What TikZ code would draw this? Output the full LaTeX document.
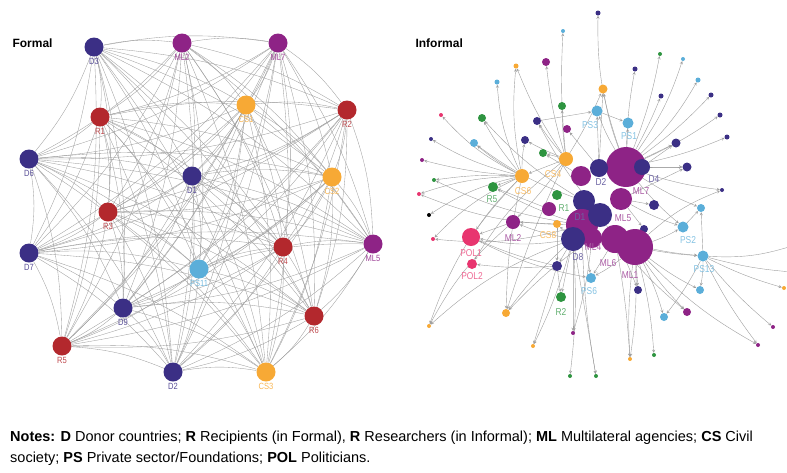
\documentclass[tikz,border=0pt]{standalone}
\usepackage{fontspec}
\setmainfont{Liberation Sans}
\newfontfamily\narrowfont[FakeStretch=0.84]{Liberation Sans}
\usetikzlibrary{positioning}
\usetikzlibrary{backgrounds}

\definecolor{dnavy}{HTML}{3B2F85}
\definecolor{mlpurple}{HTML}{8E2386}
\definecolor{rred}{HTML}{B3282D}
\definecolor{csorange}{HTML}{F7A935}
\definecolor{psblue}{HTML}{5BAED9}
\definecolor{rgreen}{HTML}{2E9440}
\definecolor{polpink}{HTML}{E8356F}
\definecolor{linegray}{HTML}{9E9E9E}

\tikzset{
  dot/.style={circle,fill=#1,inner sep=0pt},
  fedge/.style={draw=linegray,line width=0.35pt},
  iedge/.style={draw=linegray,line width=0.4pt,-stealth},
  flbl/.style={text=#1!85,font=\narrowfont\fontsize{9}{9}\selectfont,inner sep=1pt},
  ilbl/.style={text=#1!75,font=\narrowfont\fontsize{10}{10}\selectfont,inner sep=0pt},
  title/.style={font=\bfseries\fontsize{12}{12}\selectfont,anchor=west}
}

\def\formalnodes{fD3,fML2,fML7,fR1,fCS1,fR2,fD6,fD1,fCS2,fR3,fD7,fPS11,fR4,fML5,fD9,fR6,fR5,fD2,fCS3}

\begin{document}
\begin{tikzpicture}[x=1pt,y=-1pt]
\useasboundingbox (0,0) rectangle (787,472);

\node[title] (formal) at (9,43) {Formal};
\node[title] (informal) at (412,43) {Informal};

\foreach \n/\x/\y/\c/\l in {
  fD3/94/47/dnavy/D3, fML2/182/43/mlpurple/ML2, fML7/278/43/mlpurple/ML7,
  fR1/100/117/rred/R1, fCS1/246/105/csorange/CS1, fR2/347/110/rred/R2,
  fD6/29/159/dnavy/D6, fD1/192/176/dnavy/D1, fCS2/332/177/csorange/CS2,
  fR3/108/212/rred/R3, fD7/29/253/dnavy/D7, fPS11/199/269/psblue/PS11,
  fR4/283/247/rred/R4, fML5/373/244/mlpurple/ML5, fD9/123/308/dnavy/D9,
  fR6/314/316/rred/R6, fR5/62/346/rred/R5, fD2/173/372/dnavy/D2,
  fCS3/266/372/csorange/CS3}
  \node[dot=\c,minimum size=19,label={[flbl=\c]below:\l}] (\n) at (\x,\y) {};

\begin{scope}[on background layer]
\foreach \a [count=\i] in \formalnodes {
  \foreach \b [count=\j] in \formalnodes {
    \ifnum\j>\i \draw[fedge] (\a) to[bend left=9] (\b); \fi
  }
}
\end{scope}

\foreach \n/\x/\y/\d/\c in {
  p1/598/13/5/dnavy, p2/563/31/4/psblue, p3/516/66/5/csorange,
  p4/546/62/8/mlpurple, p5/497/82/5/psblue, p6/635/69/5/dnavy,
  p7/660/54/4/rgreen, p8/683/59/4/psblue, p9/698/80/5/psblue,
  p10/661/96/5/dnavy, p11/711/95/5/dnavy, p12/720/115/5/dnavy,
  p13/727/137/5/dnavy, p14/676/143/9/dnavy, p15/687/167/9/dnavy,
  p16/441/115/4/polpink, p17/431/139/4/dnavy, p18/422/160/4/mlpurple,
  p19/434/180/4/rgreen, p20/419/194/4/polpink, p21/603/89/9/csorange,
  p22/562/106/8/rgreen, p23/482/118/8/rgreen, p24/537/121/8/dnavy,
  p25/567/129/8/mlpurple, p26/474/143/8/psblue, p27/525/140/8/dnavy,
  p28/543/153/8/rgreen, p29/429/215/4/black, p30/433/239/4/polpink,
  p31/557/266/10/dnavy, p32/506/313/8/csorange, p33/429/326/4/csorange,
  p34/533/346/4/csorange, p35/573/333/4/mlpurple, p36/570/376/4/rgreen,
  p37/596/376/4/rgreen, p38/630/359/4/csorange, p39/654/355/4/rgreen,
  p40/638/290/8/dnavy, p41/664/317/8/psblue, p42/687/312/8/mlpurple,
  p43/700/290/8/psblue, p44/701/208/8/psblue, p45/722/190/4/dnavy,
  p46/784/288/4/csorange, p47/773/327/4/mlpurple, p48/758/345/4/mlpurple,
  p49/654/205/10/dnavy, p50/644/229/8/dnavy,
  iCS4/566/159/14/csorange, iCS6/522/176/14/csorange, iR5/493/187/10/rgreen,
  iR1/557/195/10/rgreen, iPb/549/209/14/mlpurple, iML2/513/222/14/mlpurple,
  iCS8/557/224/8/csorange, iPOL1/471/237/18/polpink, iPOL2/472/264/10/polpink,
  iR2/561/297/10/rgreen, iPS6/591/278/10/psblue, iPS3/597/111/11/psblue,
  iPS1/628/123/11/psblue, iMLa/626/167/40/mlpurple, iD4/642/167/16/dnavy,
  iMLb/581/176/20/mlpurple, iD2/599/168/18/dnavy, iML7/621/199/22/mlpurple,
  iDa/584/201/22/dnavy, iD1/582/225/32/mlpurple, iML4/592/238/20/mlpurple,
  iML5/600/215/24/dnavy, iD8/573/239/24/dnavy, iML6/615/239/28/mlpurple,
  iML1/635/247/36/mlpurple, iPS2/683/227/11/psblue, iPS13/703/256/11/psblue}
  \node[dot=\c,minimum size=\d] (\n) at (\x,\y) {};

\coordinate (out1) at (792,246);
\coordinate (out2) at (792,272);

\begin{scope}[on background layer]
\foreach \a/\b/\s in {
  iCS6/p16/10, iCS6/p17/8, iCS6/p18/5, iCS6/p19/-5, iCS6/p20/-8,
  iCS6/p29/-10, iCS6/p30/-10, iCS6/p26/5, iCS6/p23/5, iCS6/p5/10,
  iCS6/iPOL1/-5, iCS6/iR5/0, iCS6/p27/5, iCS6/p33/-12, iCS6/p32/-5, iCS6/p3/8,
  iCS4/p4/5, iCS4/p2/4, iCS4/p3/6, iCS4/p24/3, iCS4/p22/3, iCS4/p28/0,
  iCS4/p21/-4, iCS4/iCS6/0, iCS4/iML2/4, iCS4/p27/3, iCS4/iPOL2/-10, iCS4/p32/-4,
  iMLa/p1/10, iMLa/p6/4, iMLa/p7/-5, iMLa/p8/-8, iMLa/p9/-8, iMLa/p10/-3,
  iMLa/p11/-5, iMLa/p12/-5, iMLa/p13/-5, iMLa/p14/0, iMLa/p15/0, iMLa/p21/5,
  iMLa/iPS1/0, iMLa/iPS3/5, iMLa/p45/-5, iMLa/iPS2/-5, iMLa/p44/-5,
  iML1/p40/0, iML1/p41/5, iML1/p42/-5, iML1/p43/-5, iML1/p38/5, iML1/p39/5,
  iML1/iPS13/-3, iML1/iPS2/-5, iML1/p45/10, iML1/p48/-8, iML1/iPS6/5,
  iPS13/p44/0, iPS13/out1/-10, iPS13/out2/-5, iPS13/p46/-5, iPS13/p47/-5,
  iPS13/p48/-5, iPS13/p43/5, iPS13/p41/5,
  iD8/p31/0, iD8/iR2/0, iD8/p34/5, iD8/p35/0, iD8/p36/5, iD8/p37/0,
  iD8/iPOL1/10, iD8/iML2/5, iD8/iCS8/0, iD8/p32/-5, iD8/p33/-10,
  iD1/iPS6/0, iD1/p37/-4, iD1/p30/10, iD1/p20/10, iD1/iR5/5, iD1/p19/8,
  p31/iPOL2/5, p31/iPOL1/5, p31/iR2/0, p31/p34/0,
  iML6/iPS6/0, iML6/p38/3, iML6/p50/0, iML6/iPS13/-5,
  iD2/iPS3/0, iD2/p25/0, iD2/p21/0, iML7/p49/0, iML7/p50/0, iML7/iPS2/-5,
  iML7/p15/0, iML5/p40/5, iD4/p15/0, iD4/p14/0, iPS3/iPS1/0, p24/iPS3/0,
  iML2/p33/-10, iML2/iPOL1/0, iCS8/iML2/0, iCS8/p31/0, iPb/iR5/0,
  iML4/p35/5, iML4/p32/-5, iML5/p24/5, iDa/p23/8, iDa/p26/8, iMLb/p28/0,
  iML6/p42/-5, iML1/p38/-5, iPS2/p44/0, iPOL1/iPS6/-8}
  \draw[iedge] (\a) to[bend left=\s] (\b);
\end{scope}

\foreach \n/\l/\c/\x/\y in {
  iCS4/CS4/csorange/553/174, iCS6/CS6/csorange/523/191, iR5/R5/rgreen/492/199,
  iR1/R1/rgreen/564/208, iML2/ML2/mlpurple/513/238, iCS8/CS8/csorange/548/235,
  iPOL1/POL1/polpink/471/253, iPOL2/POL2/polpink/472/276, iR2/R2/rgreen/561/312,
  iPS6/PS6/psblue/589/291, iPS3/PS3/psblue/590/125, iPS1/PS1/psblue/629/136,
  iD2/D2/dnavy/601/182, iD4/D4/dnavy/654/179, iML7/ML7/mlpurple/641/191,
  iD1/D1/dnavy/580/217, iML5/ML5/mlpurple/623/218, iD8/D8/dnavy/578/257,
  iML4/ML4/mlpurple/593/247, iML6/ML6/mlpurple/608/263, iML1/ML1/mlpurple/630/275,
  iPS2/PS2/psblue/688/240, iPS13/PS13/psblue/704/269}
  \node[ilbl=\c] (\n-l) at (\x,\y) {\l};

\node[anchor=north west,align=left,inner sep=0pt,
  font=\fontsize{14.5}{21}\selectfont] (notes) at (10,431)
  {\textbf{Notes:} \textbf{D} Donor countries; \textbf{R} Recipients (in Formal), \textbf{R} Researchers (in Informal); \textbf{ML} Multilateral agencies; \textbf{CS} Civil\\
   society; \textbf{PS} Private sector/Foundations; \textbf{POL} Politicians.};
\end{tikzpicture}
\end{document}
